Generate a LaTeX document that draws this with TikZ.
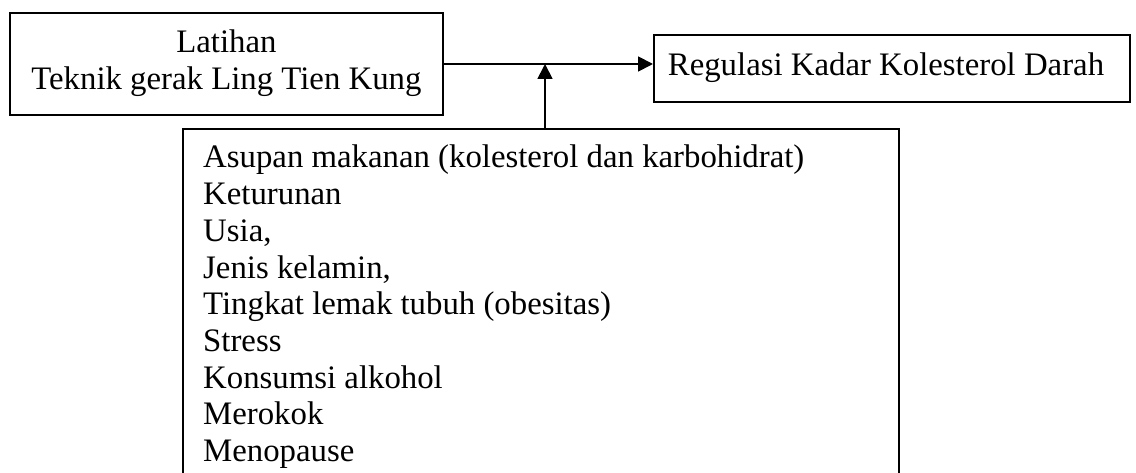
\documentclass[tikz,border=0pt]{standalone}
\usepackage{fontspec}
\setmainfont{Liberation Serif}
\usetikzlibrary{arrows.meta}
\begin{document}
\begin{tikzpicture}[x=1pt,y=1pt,
  every node/.style={font=\fontsize{32.8pt}{36.7pt}\selectfont},
  boxed/.style={draw, line width=1.8pt, inner sep=0pt},
  arr/.style={line width=1.8pt, -{Triangle[length=15pt,width=15pt]}}]
\useasboundingbox (0,0) rectangle (1136,-473);
\clip (0,0) rectangle (1136,-473);
% boxes
\node[boxed, anchor=north west, minimum width=433pt, minimum height=102pt] (b1) at (9,-12)
  {\begin{tabular}{@{}c@{}}Latihan\\ Teknik gerak Ling Tien Kung\end{tabular}};
\node[boxed, anchor=north west, minimum height=67pt] (b2) at (653,-34)
  {\rule{14pt}{0pt}\begin{tabular}{@{}l@{}}Regulasi Kadar Kolesterol Darah\end{tabular}\rule{26pt}{0pt}};
\node[boxed, anchor=north west, minimum width=716pt, minimum height=370pt] (b3) at (182,-128) {};
\node[anchor=base west, inner sep=0pt] (t3) at (203,-168)
  {\begin{tabular}[t]{@{}l@{}}Asupan makanan (kolesterol dan karbohidrat)\\
  Keturunan\\ Usia,\\ Jenis kelamin,\\ Tingkat lemak tubuh (obesitas)\\
  Stress\\ Konsumsi alkohol\\ Merokok\\ Menopause\end{tabular}};
% connectors
\coordinate (j) at (545,-64);
\draw[arr] (b1.east |- j) -- (b2.west |- j);
\draw[arr] (b3.north -| j) -- (j);
\end{tikzpicture}
\end{document}
